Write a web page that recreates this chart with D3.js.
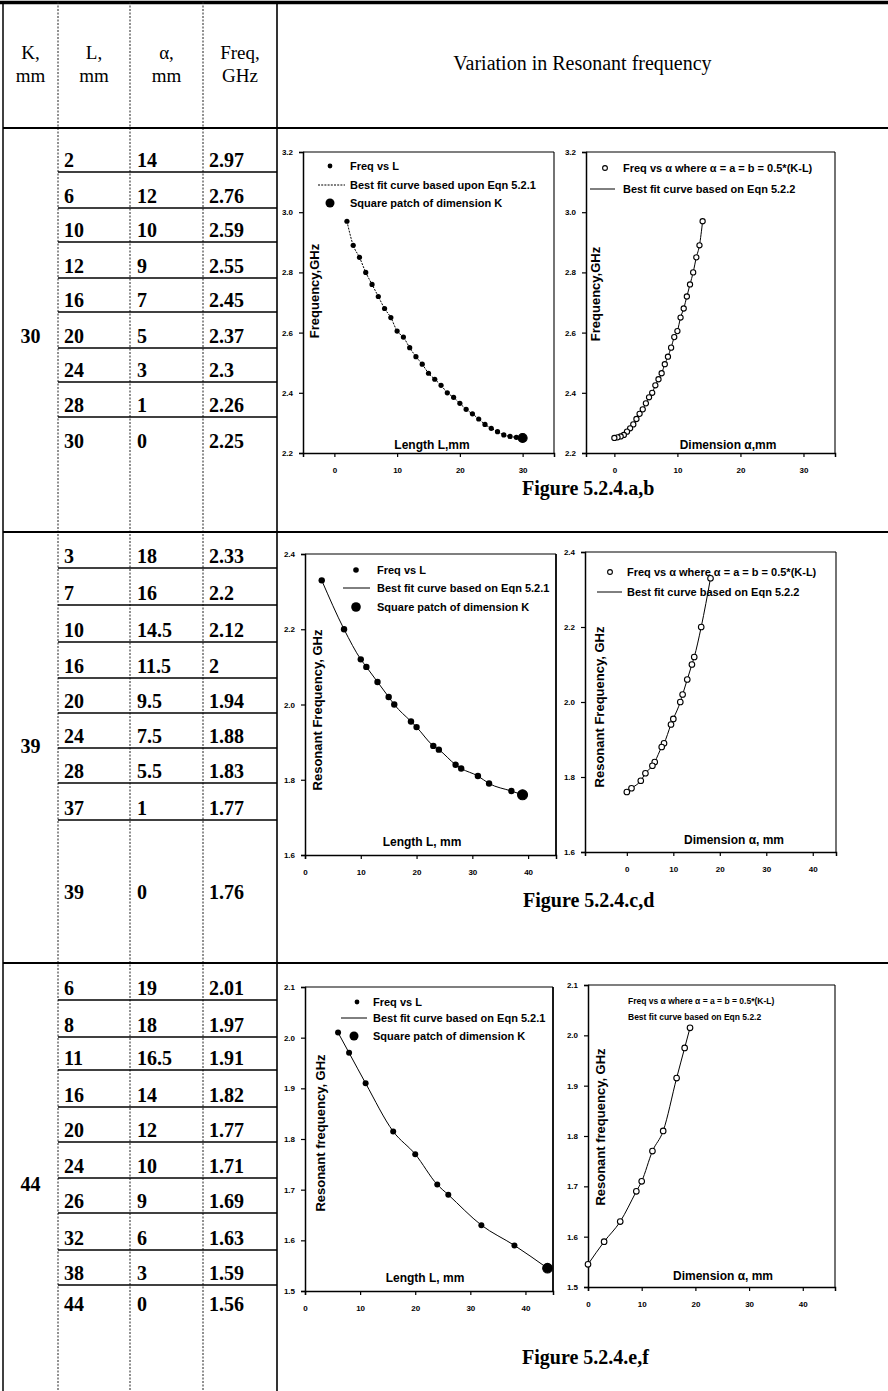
<!DOCTYPE html>
<html><head><meta charset="utf-8">
<script src="https://cdn.jsdelivr.net/npm/d3@7/dist/d3.min.js"></script>
<style>
body{margin:0;background:#fff;}
svg{display:block;}
.tbl text{font-family:"Liberation Serif","Times New Roman",serif;fill:#000;}
.plot text{font-family:"Liberation Sans",Arial,sans-serif;font-weight:bold;fill:#000;}
.cap{font-family:"Liberation Serif","Times New Roman",serif;font-weight:bold;font-size:20px;fill:#000;}
</style></head><body>
<svg id="fig" width="888" height="1391"></svg>
<script>
// ---------- table values ----------
const patchK = [30, 39, 44];
const rowL30 = [2, 6, 10, 12, 16, 20, 24, 28, 30];
const rowA30 = [14, 12, 10, 9, 7, 5, 3, 1, 0];
const rowF30 = [2.97, 2.76, 2.59, 2.55, 2.45, 2.37, 2.3, 2.26, 2.25];
const rowL39 = [3, 7, 10, 16, 20, 24, 28, 37, 39];
const rowA39 = [18, 16, 14.5, 11.5, 9.5, 7.5, 5.5, 1, 0];
const rowF39 = [2.33, 2.2, 2.12, 2, 1.94, 1.88, 1.83, 1.77, 1.76];
const rowL44 = [6, 8, 11, 16, 20, 24, 26, 32, 38, 44];
const rowA44 = [19, 18, 16.5, 14, 12, 10, 9, 6, 3, 0];
const rowF44 = [2.01, 1.97, 1.91, 1.82, 1.77, 1.71, 1.69, 1.63, 1.59, 1.56];

// ---------- plotted series ----------
// K = 30 mm
const lenA  = [2,3,4,5,6,7,8,9,10,11,12,13,14,15,16,17,18,19,20,21,22,23,24,25,26,27,28,29,30];
const freqA = [2.97,2.89,2.85,2.80,2.76,2.72,2.68,2.65,2.605,2.585,2.55,2.52,2.495,2.465,2.445,2.425,2.40,2.385,2.365,2.345,2.33,2.313,2.295,2.282,2.271,2.26,2.255,2.252,2.25];
const patchA = [30, 2.25];
const alphaB = [14,13.5,13,12.5,12,11.5,11,10.5,10,9.5,9,8.5,8,7.5,7,6.5,6,5.5,5,4.5,4,3.5,3,2.5,2,1.5,1,0.5,0];
const freqB  = [2.97,2.89,2.85,2.80,2.76,2.72,2.68,2.65,2.605,2.585,2.55,2.52,2.495,2.465,2.445,2.425,2.40,2.385,2.365,2.345,2.33,2.313,2.295,2.282,2.271,2.26,2.255,2.252,2.25];
// K = 39 mm
const lenC  = [3,7,10,11,13,15,16,19,20,23,24,27,28,31,33,37];
const freqC = [2.33,2.20,2.12,2.10,2.06,2.02,2.00,1.955,1.94,1.89,1.88,1.84,1.83,1.81,1.79,1.77];
const patchC = [39, 1.76];
const alphaD = [18,16,14.5,14,13,12,11.5,10,9.5,8,7.5,6,5.5,4,3,1,0];
const freqD  = [2.33,2.20,2.12,2.10,2.06,2.02,2.00,1.955,1.94,1.89,1.88,1.84,1.83,1.81,1.79,1.77,1.76];
// K = 44 mm
const lenE  = [6,8,11,16,20,24,26,32,38];
const freqE = [2.01,1.97,1.91,1.815,1.77,1.71,1.69,1.63,1.59];
const patchE = [44, 1.545];
const alphaF = [19,18,16.5,14,12,10,9,6,3,0];
const freqF  = [2.015,1.975,1.915,1.81,1.77,1.71,1.69,1.63,1.59,1.545];

// ---------- axis ticks ----------
const ticksAB_x = [0,10,20,30];
const ticksAB_y = [2.2,2.4,2.6,2.8,3.0,3.2];
const ticksCD_x = [0,10,20,30,40];
const ticksCD_y = [1.6,1.8,2.0,2.2,2.4];
const ticksEF_x = [0,10,20,30,40];
const ticksEF_y = [1.5,1.6,1.7,1.8,1.9,2.0,2.1];

const svg = d3.select('#fig');
svg.append('rect').attr('width',888).attr('height',1391).attr('fill','#fff');

// ---------- table ----------
const T = svg.append('g').attr('class','tbl');
const colX = {left:3, kl:58, la:130, af:203, fc:277};
const secY = [128, 532, 963, 1391];
const rowLines = [
  [172, 208, 242, 278, 312, 348, 382, 417],
  [568, 605, 642, 678, 713, 748, 783, 820],
  [1000, 1037, 1070, 1107, 1142, 1178, 1213, 1250, 1285]
];
const lastRowBase = [448, 899, 1311];
const kLabelBase = [343, 753, 1191];
const sections = [
  {L: rowL30, A: rowA30, F: rowF30},
  {L: rowL39, A: rowA39, F: rowF39},
  {L: rowL44, A: rowA44, F: rowF44}
];

// outer and column lines
T.append('line').attr('x1',0).attr('x2',888).attr('y1',2.5).attr('y2',2.5).attr('stroke','#000').attr('stroke-width',3.5);
T.append('line').attr('x1',colX.left).attr('x2',colX.left).attr('y1',2).attr('y2',1391).attr('stroke','#000').attr('stroke-width',1.5);
[colX.kl, colX.la, colX.af].forEach(x => {
  T.append('line').attr('x1',x).attr('x2',x).attr('y1',2).attr('y2',1391)
    .attr('stroke','#222').attr('stroke-width',1).attr('stroke-dasharray','2,1.5');
});
T.append('line').attr('x1',colX.fc).attr('x2',colX.fc).attr('y1',2).attr('y2',1391).attr('stroke','#000').attr('stroke-width',1.6);
secY.slice(0,3).forEach(y => {
  T.append('line').attr('x1',colX.left).attr('x2',888).attr('y1',y).attr('y2',y).attr('stroke','#000').attr('stroke-width',2);
});

// header
const head = [
  {x:(colX.left+colX.kl)/2, t:['K,','mm']},
  {x:(colX.kl+colX.la)/2, t:['L,','mm']},
  {x:(colX.la+colX.af)/2, t:['α,','mm']},
  {x:(colX.af+colX.fc)/2, t:['Freq,','GHz']}
];
head.forEach(h => {
  T.append('text').attr('x',h.x).attr('y',59).attr('text-anchor','middle').attr('font-size',19).text(h.t[0]);
  T.append('text').attr('x',h.x).attr('y',82).attr('text-anchor','middle').attr('font-size',19).text(h.t[1]);
});
T.append('text').attr('x',(colX.fc+888)/2).attr('y',70).attr('text-anchor','middle').attr('font-size',20).text('Variation in Resonant frequency');

// rows
sections.forEach((s, si) => {
  const lines = rowLines[si];
  lines.forEach(y => {
    T.append('line').attr('x1',colX.kl).attr('x2',colX.fc).attr('y1',y).attr('y2',y).attr('stroke','#000').attr('stroke-width',1.5);
  });
  s.L.forEach((v, i) => {
    const by = i < lines.length ? lines[i] - 5 : lastRowBase[si];
    T.append('text').attr('x',64).attr('y',by).attr('font-size',20).attr('font-weight','bold').text(String(v));
    T.append('text').attr('x',137).attr('y',by).attr('font-size',20).attr('font-weight','bold').text(String(s.A[i]));
    T.append('text').attr('x',209).attr('y',by).attr('font-size',20).attr('font-weight','bold').text(String(s.F[i]));
  });
  T.append('text').attr('x',(colX.left+colX.kl)/2).attr('y',kLabelBase[si]).attr('text-anchor','middle')
    .attr('font-size',20).attr('font-weight','bold').text(String(patchK[si]));
});

// ---------- plots ----------
function panel(c) {
  const g = svg.append('g').attr('class','plot');
  const x = d3.scaleLinear().domain(c.xd).range([c.L, c.R]);
  const y = d3.scaleLinear().domain(c.yd).range([c.B, c.T]);

  g.append('line').attr('x1',c.L).attr('x2',c.R).attr('y1',c.T).attr('y2',c.T).attr('stroke','#000').attr('stroke-width',1.1);
  g.append('line').attr('x1',c.R).attr('x2',c.R).attr('y1',c.T).attr('y2',c.B).attr('stroke','#000').attr('stroke-width',c.rightW || 1.1);

  const xa = g.append('g').attr('transform',`translate(0,${c.B})`)
    .call(d3.axisBottom(x).tickValues(c.xt).tickSize(4).tickPadding(10).tickFormat(d3.format('d')));
  const ya = g.append('g').attr('transform',`translate(${c.L},0)`)
    .call(d3.axisLeft(y).tickValues(c.yt).tickSize(4).tickPadding(6).tickFormat(d3.format('.1f')));
  [xa, ya].forEach(a => {
    a.attr('font-size', 8);
    a.select('.domain').attr('stroke','#000').attr('stroke-width',1.5);
    a.selectAll('.tick line').attr('stroke','#000').attr('stroke-width',1.2);
  });

  const pts = c.xs.map((v, i) => [v, c.ys[i]]);
  const fitPts = c.big ? pts.concat([c.big]) : pts.slice();
  fitPts.sort((a, b) => a[0] - b[0]);
  const line = d3.line().x(d => x(d[0])).y(d => y(d[1])).curve(d3.curveMonotoneX);
  g.append('path').datum(fitPts).attr('d', line).attr('fill','none').attr('stroke','#000')
    .attr('stroke-width',1).attr('stroke-dasharray', c.dash || null);

  g.append('g').selectAll('circle').data(pts).join('circle')
    .attr('cx', d => x(d[0])).attr('cy', d => y(d[1])).attr('r', c.r)
    .attr('fill', c.ring ? '#fff' : '#000').attr('stroke','#000').attr('stroke-width', c.ring ? 1.1 : 0);
  if (c.big) {
    g.append('circle').attr('cx', x(c.big[0])).attr('cy', y(c.big[1])).attr('r', c.bigR)
      .attr('fill', c.ring ? '#fff' : '#000').attr('stroke','#000').attr('stroke-width',1.1);
  }

  // legend
  c.legend.forEach(e => {
    if (e.kind === 'dot') g.append('circle').attr('cx',e.mx).attr('cy',e.y).attr('r',e.r).attr('fill','#000');
    if (e.kind === 'ring') g.append('circle').attr('cx',e.mx).attr('cy',e.y).attr('r',e.r).attr('fill','#fff').attr('stroke','#000').attr('stroke-width',1.1);
    if (e.kind === 'line') g.append('line').attr('x1',e.lx[0]).attr('x2',e.lx[1]).attr('y1',e.y).attr('y2',e.y)
      .attr('stroke','#000').attr('stroke-width',1).attr('stroke-dasharray', e.dash || null);
    g.append('text').attr('x',e.tx).attr('y',e.y).attr('dy','0.35em').attr('font-size',c.legSize).text(e.text);
  });

  g.append('text').attr('x', c.xTitle[1]).attr('y', c.xTitle[2]).attr('text-anchor','middle')
    .attr('font-size', 12).text(c.xTitle[0]);
  g.append('text').attr('transform', `translate(${c.yTitle[1]},${c.yTitle[2]}) rotate(-90)`)
    .attr('text-anchor','middle').attr('dy','0.35em').attr('font-size', 13).text(c.yTitle[0]);
}

const alphaLegend = 'Freq vs α where α = a = b = 0.5*(K-L)';

panel({L:303, R:554, T:152, B:453, xd:[-5,35], yd:[2.2,3.2], xt:ticksAB_x, yt:ticksAB_y,
  xs:lenA, ys:freqA, r:2.6, big:patchA, bigR:4.5, dash:'2,1.2', legSize:11,
  legend:[
    {kind:'dot', mx:330, r:2.4, y:166, tx:350, text:'Freq vs L'},
    {kind:'line', lx:[318,345], dash:'2,1.2', y:185, tx:350, text:'Best fit curve based upon Eqn 5.2.1'},
    {kind:'dot', mx:330, r:4.5, y:203, tx:350, text:'Square patch of dimension K'}],
  xTitle:['Length L,mm', 432, 449], yTitle:['Frequency,GHz', 314, 291]});

panel({L:586, R:835, T:152, B:453, xd:[-4.5,35], yd:[2.2,3.2], xt:ticksAB_x, yt:ticksAB_y,
  xs:alphaB, ys:freqB, r:2.6, ring:true, legSize:11,
  legend:[
    {kind:'ring', mx:605, r:2.4, y:168, tx:623, text:alphaLegend},
    {kind:'line', lx:[590,615], y:189, tx:623, text:'Best fit curve based on Eqn 5.2.2'}],
  xTitle:['Dimension α,mm', 728, 449], yTitle:['Frequency,GHz', 595, 294]});

panel({L:305, R:556, T:554, B:855, xd:[0,45], yd:[1.6,2.4], xt:ticksCD_x, yt:ticksCD_y,
  xs:lenC, ys:freqC, r:3.2, big:patchC, bigR:5, legSize:11, rightW:1.8,
  legend:[
    {kind:'dot', mx:356, r:2.8, y:570, tx:377, text:'Freq vs L'},
    {kind:'line', lx:[343,370], y:588, tx:377, text:'Best fit curve based on Eqn 5.2.1'},
    {kind:'dot', mx:356, r:4.8, y:607, tx:377, text:'Square patch of dimension K'}],
  xTitle:['Length L, mm', 422, 846], yTitle:['Resonant Frequency, GHz', 317, 710]});

panel({L:585, R:836, T:552, B:852, xd:[-9,45], yd:[1.6,2.4], xt:ticksCD_x, yt:ticksCD_y,
  xs:alphaD, ys:freqD, r:2.8, ring:true, legSize:11,
  legend:[
    {kind:'ring', mx:610, r:2.4, y:572, tx:627, text:alphaLegend},
    {kind:'line', lx:[597,622], y:592, tx:627, text:'Best fit curve based on Eqn 5.2.2'}],
  xTitle:['Dimension α, mm', 734, 844], yTitle:['Resonant Frequency, GHz', 599, 707]});

panel({L:305, R:553, T:987, B:1291, xd:[0,45], yd:[1.5,2.1], xt:ticksEF_x, yt:ticksEF_y,
  xs:lenE, ys:freqE, r:3, big:patchE, bigR:4.8, legSize:11, rightW:1.8,
  legend:[
    {kind:'dot', mx:357, r:2.4, y:1002, tx:373, text:'Freq vs L'},
    {kind:'line', lx:[341,367], y:1018, tx:373, text:'Best fit curve based on Eqn 5.2.1'},
    {kind:'dot', mx:354, r:4.5, y:1036, tx:373, text:'Square patch of dimension K'}],
  xTitle:['Length L, mm', 425, 1282], yTitle:['Resonant frequency, GHz', 320, 1133]});

panel({L:588, R:835, T:985, B:1287, xd:[0,46], yd:[1.5,2.1], xt:ticksEF_x, yt:ticksEF_y,
  xs:alphaF, ys:freqF, r:2.8, ring:true, legSize:8.5,
  legend:[
    {kind:'none', y:1001, tx:628, text:alphaLegend},
    {kind:'none', y:1017, tx:628, text:'Best fit curve based on Eqn 5.2.2'}],
  xTitle:['Dimension α, mm', 723, 1280], yTitle:['Resonant frequency, GHz', 600, 1127]});

// captions
svg.append('text').attr('class','cap').attr('x',522).attr('y',495).text('Figure 5.2.4.a,b');
svg.append('text').attr('class','cap').attr('x',523).attr('y',907).text('Figure 5.2.4.c,d');
svg.append('text').attr('class','cap').attr('x',522).attr('y',1364).text('Figure 5.2.4.e,f');
</script>
</body></html>
